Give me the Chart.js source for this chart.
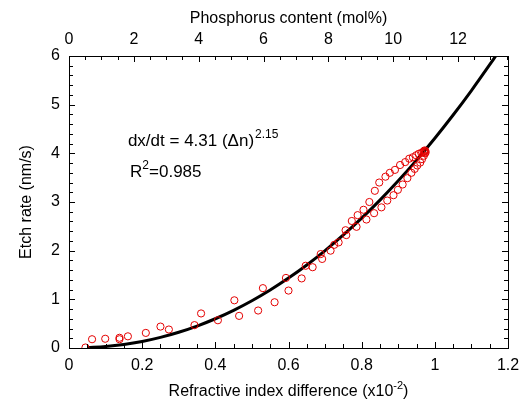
<!DOCTYPE html>
<html>
<head>
<meta charset="utf-8">
<script src="https://cdn.jsdelivr.net/npm/chart.js@4/dist/chart.umd.min.js"></script>
<style>
  html, body { margin: 0; padding: 0; background: #fff; }
  #wrap { width: 521px; height: 402px; }
</style>
</head>
<body>
<div id="wrap"><canvas id="mycanvas"></canvas></div>
<script>
// measured points (refractive index difference x10^-2, etch rate nm/s)
var dn_data = [0.045, 0.063, 0.099, 0.138, 0.138, 0.161, 0.21, 0.25, 0.273, 0.343,
  0.361, 0.407, 0.452, 0.465, 0.517, 0.530, 0.562, 0.593, 0.600, 0.636,
  0.647, 0.666, 0.688, 0.692, 0.715, 0.725, 0.737, 0.756, 0.758, 0.773,
  0.786, 0.789, 0.805, 0.813, 0.821, 0.834, 0.836, 0.848, 0.854, 0.865,
  0.870, 0.877, 0.887, 0.891, 0.899, 0.905, 0.912, 0.919, 0.925, 0.930,
  0.936, 0.940, 0.945, 0.949, 0.952, 0.956, 0.960, 0.963, 0.965, 0.969,
  0.970, 0.971, 0.972, 0.973, 0.974, 0.975];
var rate_data = [0.01, 0.18, 0.19, 0.21, 0.18, 0.24, 0.31, 0.44, 0.38, 0.47,
  0.71, 0.57, 0.98, 0.66, 0.77, 1.23, 0.94, 1.44, 1.18, 1.43,
  1.69, 1.66, 1.93, 1.83, 2.00, 2.12, 2.17, 2.42, 2.32, 2.61,
  2.49, 2.73, 2.84, 2.64, 3.00, 2.77, 3.23, 3.40, 2.89, 3.52,
  3.03, 3.60, 3.14, 3.66, 3.25, 3.76, 3.36, 3.82, 3.49, 3.89,
  3.60, 3.92, 3.68, 3.96, 3.75, 3.99, 3.81, 4.01, 3.88, 4.04,
  3.95, 4.03, 4.06, 4.00, 4.05, 4.02];

// fitted curve dx/dt = 4.31 (dn)^2.15
var fit_x = [0.05, 0.1, 0.15, 0.2, 0.25, 0.3, 0.35, 0.4, 0.45, 0.5, 0.55, 0.6,
  0.65, 0.7, 0.75, 0.8, 0.85, 0.9, 0.95, 1.0, 1.05, 1.1, 1.15, 1.166];
var fit_y = [0.007, 0.031, 0.073, 0.135, 0.219, 0.324, 0.451, 0.601, 0.774, 0.971,
  1.192, 1.437, 1.707, 2.002, 2.322, 2.667, 3.039, 3.436, 3.860, 4.310,
  4.787, 5.290, 5.821, 5.996];

var x_range = [0, 1.2];
var y_range = [0, 6];
var p_range = [0, 13.54];   // phosphorus content (mol%) on the top axis

var points = [];
for (var i in dn_data) points.push({x: dn_data[i], y: rate_data[i]});
var fitline = [];
for (var j in fit_x) fitline.push({x: fit_x[j], y: fit_y[j]});

var FONT = "Liberation Sans, Arial, sans-serif";
var RED = "rgb(228, 0, 0)";

function isMult(v, step) {
  var r = v / step;
  return Math.abs(r - Math.round(r)) < 1e-6;
}

// inward tick marks on all four sides + axis titles + equation text
var framePlugin = {
  id: "frame",
  afterDraw: function(chart) {
    var ctx = chart.ctx;
    var a = chart.chartArea;
    var s = chart.scales;
    ctx.save();
    ctx.strokeStyle = "#000";
    ctx.lineWidth = 1;
    function tickset(scale, step, major, side) {
      for (var v = scale.min; v <= scale.max + 1e-9; v += step) {
        var vv = Math.round(v / step) * step;
        var len = isMult(vv, major) ? 6 : 4;
        var p = Math.round(scale.getPixelForValue(vv)) + 0.5;
        ctx.beginPath();
        if (side == "bottom") { ctx.moveTo(p, a.bottom); ctx.lineTo(p, a.bottom - len); }
        if (side == "top") { ctx.moveTo(p, a.top); ctx.lineTo(p, a.top + len); }
        if (side == "left") { ctx.moveTo(a.left, p); ctx.lineTo(a.left + len, p); }
        if (side == "right") { ctx.moveTo(a.right, p); ctx.lineTo(a.right - len, p); }
        ctx.stroke();
      }
    }
    tickset(s.x, 0.05, 0.2, "bottom");
    tickset(s.x2, 0.5, 2, "top");
    tickset(s.y, 0.2, 1, "left");
    tickset(s.y2, 0.2, 1, "right");

    ctx.fillStyle = "#000";
    ctx.textBaseline = "alphabetic";
    var cx = (a.left + a.right) / 2;

    // bottom title with superscript
    var t1 = "Refractive index difference (x10";
    var sup1 = "-2";
    var t1b = ")";
    ctx.font = "16px " + FONT;
    var w1 = ctx.measureText(t1).width;
    var w1b = ctx.measureText(t1b).width;
    ctx.font = "11px " + FONT;
    var ws1 = ctx.measureText(sup1).width;
    var x0 = cx - (w1 + ws1 + w1b) / 2;
    var yb = 396;
    ctx.font = "16px " + FONT;
    ctx.textAlign = "left";
    ctx.fillText(t1, x0, yb);
    ctx.font = "11px " + FONT;
    ctx.fillText(sup1, x0 + w1, yb - 7);
    ctx.font = "16px " + FONT;
    ctx.fillText(t1b, x0 + w1 + ws1, yb);

    // top title
    ctx.textAlign = "center";
    ctx.fillText("Phosphorus content (mol%)", cx, 23);

    // left title
    ctx.save();
    ctx.translate(31, (a.top + a.bottom) / 2);
    ctx.rotate(-Math.PI / 2);
    ctx.fillText("Etch rate (nm/s)", 0, 0);
    ctx.restore();

    // equation
    ctx.textAlign = "left";
    var ex = s.x.getPixelForValue(0.161);
    var ey = s.y.getPixelForValue(4.15);
    ctx.font = "17px " + FONT;
    var eq = "dx/dt = 4.31 (\u0394n)";
    ctx.fillText(eq, ex, ey);
    var weq = ctx.measureText(eq).width;
    ctx.font = "12px " + FONT;
    ctx.fillText("2.15", ex + weq + 1, ey - 8);

    var rx = s.x.getPixelForValue(0.167);
    var ry = s.y.getPixelForValue(3.51);
    ctx.font = "17px " + FONT;
    ctx.fillText("R", rx, ry);
    var wr = ctx.measureText("R").width;
    ctx.font = "12px " + FONT;
    ctx.fillText("2", rx + wr, ry - 8);
    var w2 = ctx.measureText("2").width;
    ctx.font = "17px " + FONT;
    ctx.fillText("=0.985", rx + wr + w2, ry);
    ctx.restore();
  }
};

var tickFont = {family: FONT, size: 16};

function noPad(sc) {
  sc.paddingLeft = 0; sc.paddingRight = 0;
  sc.paddingTop = 0; sc.paddingBottom = 0;
}

var ctx = document.getElementById("mycanvas");
var LineGraph = new Chart(ctx, {
  type: "scatter",
  data: {
    datasets: [
      {
        label: "measured",
        data: points,
        showLine: false,
        pointStyle: "circle",
        pointRadius: 3.6,
        pointBorderWidth: 1,
        pointBorderColor: RED,
        pointBackgroundColor: "rgba(0,0,0,0)",
        order: 1
      },
      {
        label: "fit",
        data: fitline,
        showLine: true,
        fill: false,
        borderColor: "#000",
        borderWidth: 3,
        pointRadius: 0,
        cubicInterpolationMode: "monotone",
        order: 2
      }
    ]
  },
  options: {
    responsive: true,
    maintainAspectRatio: false,
    animation: { duration: 0 },
    events: [],
    layout: { padding: 0 },
    plugins: { legend: { display: false }, tooltip: { enabled: false } },
    scales: {
      x: {
        type: "linear", position: "bottom",
        min: x_range[0], max: x_range[1],
        grid: { display: false, drawTicks: false },
        border: { display: true, color: "#000", width: 1 },
        ticks: {
          stepSize: 0.05, autoSkip: false, maxRotation: 0, padding: 8,
          color: "#000", font: tickFont,
          callback: function(v) { return isMult(v, 0.2) ? String(Math.round(v * 10) / 10) : ""; }
        },
        afterFit: function(sc) { sc.height = 54; noPad(sc); }
      },
      x2: {
        type: "linear", position: "top",
        min: p_range[0], max: p_range[1],
        grid: { display: false, drawTicks: false },
        border: { display: true, color: "#000", width: 1 },
        ticks: {
          stepSize: 0.5, autoSkip: false, maxRotation: 0, padding: 7,
          color: "#000", font: tickFont,
          callback: function(v) { return isMult(v, 2) ? String(Math.round(v)) : ""; }
        },
        afterFit: function(sc) { sc.height = 56; noPad(sc); }
      },
      y: {
        type: "linear", position: "left",
        min: y_range[0], max: y_range[1],
        grid: { display: false, drawTicks: false },
        border: { display: true, color: "#000", width: 1 },
        ticks: {
          stepSize: 0.2, autoSkip: false, padding: 9,
          color: "#000", font: tickFont,
          callback: function(v) { return isMult(v, 1) ? String(Math.round(v)) : ""; }
        },
        afterFit: function(sc) { sc.width = 69; noPad(sc); }
      },
      y2: {
        type: "linear", position: "right",
        min: y_range[0], max: y_range[1],
        grid: { display: false, drawTicks: false },
        border: { display: true, color: "#000", width: 1 },
        ticks: { stepSize: 0.2, display: false },
        afterFit: function(sc) { sc.width = 13; noPad(sc); }
      }
    }
  },
  plugins: [framePlugin]
});
</script>
</body>
</html>
